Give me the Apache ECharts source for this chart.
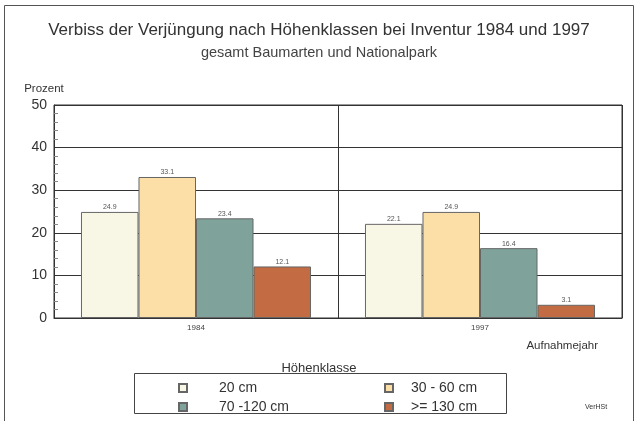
<!DOCTYPE html>
<html>
<head>
<meta charset="utf-8">
<script src="https://cdn.jsdelivr.net/npm/echarts@6/dist/echarts.min.js"></script>
<style>
  html, body { margin: 0; padding: 0; background: #fff; }
  #chart { width: 638px; height: 421px; }
</style>
</head>
<body>
<div id="chart"></div>
<script>
// Aufnahmejahre
const years = ['1984', '1997'];
// Höhenklassen
const classes = ['20 cm', '30 - 60 cm', '70 -120 cm', '>= 130 cm'];
// Verbiss in Prozent je Höhenklasse (1984, 1997)
const val20 = [24.9, 22.1];
const val30_60 = [33.1, 24.9];
const val70_120 = [23.4, 16.4];
const val130 = [12.1, 3.1];
const yTicks = [0, 10, 20, 30, 40, 50];

const colors = ['#f8f6e4', '#fbdfa6', '#7fa39b', '#c36b42'];
const seriesData = [val20, val30_60, val70_120, val130];

const chart = echarts.init(document.getElementById('chart'));
const font = 'Liberation Sans, Arial, sans-serif';

let series = classes.map((name, i) => ({
  name: name,
  type: 'bar',
  data: seriesData[i],
  barGap: '0%',
  barCategoryGap: '19%',
  itemStyle: {
    color: colors[i],
    borderColor: '#666',
    borderWidth: 1
  },
  label: {
    show: true,
    position: 'top',
    distance: 1,
    fontSize: 7,
    color: '#555',
    fontFamily: font,
    formatter: p => p.value.toFixed(1)
  }
}));

let option = {
  animation: false,
  textStyle: { fontFamily: font },
  title: [
    {
      text: 'Verbiss der Verjüngung nach Höhenklassen bei Inventur 1984 und 1997',
      left: 'center', top: 17,
      textStyle: { fontSize: 17, fontWeight: 'normal', color: '#333', fontFamily: font }
    },
    {
      text: 'gesamt Baumarten und Nationalpark',
      left: 'center', top: 40,
      textStyle: { fontSize: 14.5, fontWeight: 'normal', color: '#444', fontFamily: font }
    },
    {
      text: 'Höhenklasse',
      left: 'center', top: 357,
      textStyle: { fontSize: 13, fontWeight: 'normal', color: '#333', fontFamily: font }
    }
  ],
  legend: [
    {
      orient: 'vertical',
      left: 173, top: 376,
      itemWidth: 8, itemHeight: 8, itemGap: 5,
      icon: 'rect',
      data: ['20 cm', '70 -120 cm'],
      textStyle: { fontSize: 14, color: '#333', padding: [0, 0, 0, 27] }
    },
    {
      orient: 'vertical',
      left: 379, top: 376,
      itemWidth: 8, itemHeight: 8, itemGap: 5,
      icon: 'rect',
      data: ['30 - 60 cm', '>= 130 cm'],
      textStyle: { fontSize: 14, color: '#333', padding: [0, 0, 0, 13] }
    }
  ],
  grid: {
    left: 54, right: 16, top: 105, bottom: 103,
    show: true,
    borderColor: '#333',
    borderWidth: 1
  },
  xAxis: {
    type: 'category',
    data: years,
    name: 'Aufnahmejahr',
    nameLocation: 'end',
    nameGap: 0,
    nameTextStyle: {
      fontSize: 11.5, color: '#333',
      align: 'right', verticalAlign: 'top',
      padding: [22, 24, 0, 0]
    },
    axisLine: { lineStyle: { color: '#333' } },
    axisTick: { show: false },
    axisLabel: { fontSize: 8, color: '#444', margin: 6 },
    splitLine: { show: true, lineStyle: { color: '#333', width: 1 } }
  },
  yAxis: [
    {
      type: 'value',
      min: 0, max: 50, interval: 10,
      name: 'Prozent',
      nameLocation: 'end',
      nameGap: 10,
      nameTextStyle: { fontSize: 11.5, color: '#333', align: 'center', padding: [0, 20, 0, 0] },
      axisLine: { show: true, lineStyle: { color: '#333' } },
      axisTick: { show: false },
      axisLabel: {
        fontSize: 14, color: '#333', margin: 7,
        formatter: v => yTicks.includes(v) ? String(v) : ''
      },
      splitLine: { show: true, lineStyle: { color: '#333', width: 1 } }
    },
    {
      // nur für die Nebenstriche innen an der linken Achse
      type: 'value',
      position: 'right',
      offset: -568,
      min: 0, max: 50, interval: 10,
      axisLine: { show: false },
      axisTick: { show: false },
      axisLabel: { show: false },
      splitLine: { show: false },
      minorTick: { show: true, splitNumber: 5, length: 4, lineStyle: { color: '#888' } }
    }
  ],
  graphic: [
    {
      type: 'rect',
      shape: { x: 4.5, y: 5.5, width: 629, height: 430 },
      style: { fill: 'none', stroke: '#555', lineWidth: 1 },
      silent: true
    },
    {
      type: 'rect',
      shape: { x: 134.5, y: 373.5, width: 372, height: 40 },
      style: { fill: 'none', stroke: '#444', lineWidth: 1 },
      silent: true
    },
    {
      type: 'text',
      left: 585, top: 404,
      style: { text: 'VerHSt', fontSize: 7, fill: '#333', fontFamily: font }
    }
  ],
  series: series
};

chart.setOption(option);
</script>
</body>
</html>
